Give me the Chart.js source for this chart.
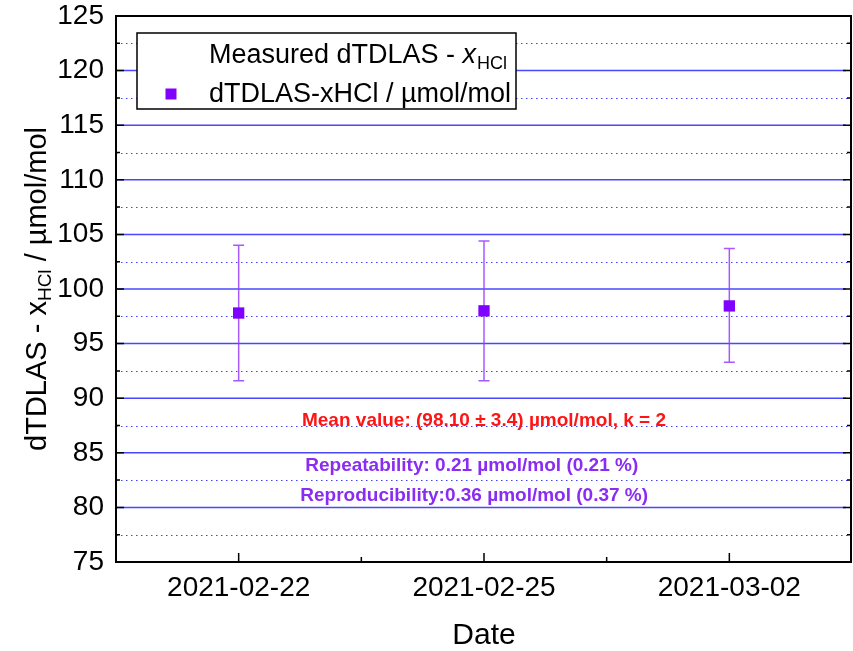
<!DOCTYPE html>
<html>
<head>
<meta charset="utf-8">
<script src="https://cdn.jsdelivr.net/npm/chart.js@4.4.0/dist/chart.umd.min.js"></script>
<style>
  html, body { margin: 0; padding: 0; background: #fff; }
  #wrap { width: 853px; height: 651px; }
</style>
</head>
<body>
<div id="wrap"><canvas id="myChart" width="853" height="651"></canvas></div>
<script>
// data
var dates = ["2021-02-22", "2021-02-25", "2021-03-02"];
var values = [97.8, 98.0, 98.45];
var errLow = [91.6, 91.6, 93.3];
var errHigh = [104.0, 104.4, 103.7];

var notes = [
  "Mean value: (98.10 \u00b1 3.4) \u00b5mol/mol, k = 2",
  "Repeatability: 0.21 \u00b5mol/mol (0.21 %)",
  "Reproducibility:0.36 \u00b5mol/mol (0.37 %)"
];
var noteX = [1.0, 0.95, 0.96];
var noteY = [87.9, 83.8, 81.1];
var noteColors = ["#ff1414", "#8a2cf2", "#8a2cf2"];

const FONT = "'Liberation Sans', Arial, sans-serif";
const purple = "#8000ff";

// grid, frame, ticks, error bars, titles, legend
const decor = {
  id: "decor",
  beforeDatasetsDraw(chart) {
    const ctx = chart.ctx;
    const a = chart.chartArea;
    const xs = chart.scales.x;
    const ys = chart.scales.y;
    ctx.save();
    // grid lines
    ys.ticks.forEach((t, i) => {
      const v = t.value;
      const py = ys.getPixelForValue(v);
      if (v > ys.min && v < ys.max) {
        ctx.beginPath();
        ctx.strokeStyle = "rgba(40,40,255,0.85)";
        ctx.lineWidth = 1.5;
        ctx.setLineDash([]);
        ctx.moveTo(a.left, py);
        ctx.lineTo(a.right - 6, py);
        ctx.stroke();
      }
      if (i < ys.ticks.length - 1) {
        const mv = (v + ys.ticks[i + 1].value) / 2;
        const my = Math.round(ys.getPixelForValue(mv)) + 0.5;
        ctx.beginPath();
        ctx.strokeStyle = "rgba(30,30,255,0.85)";
        ctx.lineWidth = 1;
        ctx.setLineDash([1.5, 3.5]);
        ctx.moveTo(a.left, my);
        ctx.lineTo(a.right - 4, my);
        ctx.stroke();
      }
    });
    ctx.setLineDash([]);

    // error bars
    ctx.strokeStyle = "rgba(150,60,255,0.85)";
    ctx.lineWidth = 1.5;
    values.forEach((v, i) => {
      const px = xs.getPixelForValue(i);
      const top = ys.getPixelForValue(errHigh[i]);
      const bot = ys.getPixelForValue(errLow[i]);
      ctx.beginPath();
      ctx.moveTo(px, top);
      ctx.lineTo(px, bot);
      ctx.moveTo(px - 5.5, top);
      ctx.lineTo(px + 5.5, top);
      ctx.moveTo(px - 5.5, bot);
      ctx.lineTo(px + 5.5, bot);
      ctx.stroke();
    });

    // annotation texts
    ctx.font = "bold 19px " + FONT;
    ctx.textAlign = "center";
    ctx.textBaseline = "middle";
    notes.forEach((n, i) => {
      ctx.fillStyle = noteColors[i];
      ctx.fillText(n, xs.getPixelForValue(noteX[i]), ys.getPixelForValue(noteY[i]));
    });
    ctx.restore();
  },
  afterDraw(chart) {
    const ctx = chart.ctx;
    const a = chart.chartArea;
    const xs = chart.scales.x;
    const ys = chart.scales.y;
    ctx.save();
    ctx.strokeStyle = "#000";
    ctx.lineWidth = 2;
    // frame
    ctx.strokeRect(a.left, a.top, a.right - a.left - 1, a.bottom - a.top);
    // y ticks left and right
    ctx.lineWidth = 1.5;
    ys.ticks.forEach((t, i) => {
      const py = ys.getPixelForValue(t.value);
      ctx.beginPath();
      ctx.moveTo(a.left, py); ctx.lineTo(a.left + 8, py);
      ctx.moveTo(a.right - 1, py); ctx.lineTo(a.right - 9, py);
      ctx.stroke();
      if (i < ys.ticks.length - 1) {
        const my = ys.getPixelForValue((t.value + ys.ticks[i + 1].value) / 2);
        ctx.beginPath();
        ctx.moveTo(a.left, my); ctx.lineTo(a.left + 4, my);
        ctx.moveTo(a.right - 1, my); ctx.lineTo(a.right - 5, my);
        ctx.stroke();
      }
    });
    // x ticks
    xs.ticks.forEach((t, i) => {
      const px = xs.getPixelForValue(t.value);
      ctx.beginPath();
      ctx.moveTo(px, a.bottom); ctx.lineTo(px, a.bottom - 9);
      ctx.stroke();
      if (i < xs.ticks.length - 1) {
        const mx = xs.getPixelForValue((t.value + xs.ticks[i + 1].value) / 2);
        ctx.beginPath();
        ctx.moveTo(mx, a.bottom); ctx.lineTo(mx, a.bottom - 5);
        ctx.stroke();
      }
    });

    // axis titles
    ctx.fillStyle = "#000";
    ctx.textBaseline = "alphabetic";
    ctx.textAlign = "center";
    ctx.font = "30px " + FONT;
    ctx.fillText("Date", (a.left + a.right) / 2, 644);

    // y title with subscript
    const p1 = "dTDLAS - x", sub = "HCl", p2 = " / \u00b5mol/mol";
    ctx.font = "29px " + FONT;
    const w1 = ctx.measureText(p1).width, w3 = ctx.measureText(p2).width;
    ctx.font = "19px " + FONT;
    const w2 = ctx.measureText(sub).width;
    const total = w1 + w2 + w3;
    ctx.translate(46, (a.top + a.bottom) / 2);
    ctx.rotate(-Math.PI / 2);
    ctx.textAlign = "left";
    let x0 = -total / 2;
    ctx.font = "29px " + FONT;
    ctx.fillText(p1, x0, 0);
    ctx.font = "19px " + FONT;
    ctx.fillText(sub, x0 + w1, 5);
    ctx.font = "29px " + FONT;
    ctx.fillText(p2, x0 + w1 + w2, 0);
    ctx.setTransform(1, 0, 0, 1, 0, 0);

    // legend
    ctx.fillStyle = "#fff";
    ctx.fillRect(137, 33, 379, 76);
    ctx.strokeStyle = "#000";
    ctx.lineWidth = 1.5;
    ctx.strokeRect(137, 33, 379, 76);
    ctx.fillStyle = "#000";
    ctx.textAlign = "left";
    ctx.font = "27px " + FONT;
    const l1 = "Measured dTDLAS - ";
    ctx.fillText(l1, 209, 63);
    let lx = 209 + ctx.measureText(l1).width;
    ctx.font = "italic 27px " + FONT;
    ctx.fillText("x", lx, 63);
    lx += ctx.measureText("x").width;
    ctx.font = "18px " + FONT;
    ctx.fillText("HCl", lx + 1, 69);
    ctx.font = "27px " + FONT;
    ctx.fillText(chart.data.datasets[0].label, 209, 102);
    ctx.fillStyle = purple;
    ctx.fillRect(165.5, 88.5, 11, 11);
    ctx.restore();
  }
};

const ctx = document.getElementById("myChart").getContext("2d");
const myChart = new Chart(ctx, {
  type: "scatter",
  data: {
    datasets: [{
      label: "dTDLAS-xHCl / \u00b5mol/mol",
      data: values.map((v, i) => ({ x: i, y: v })),
      backgroundColor: purple,
      borderColor: purple,
      borderWidth: 0,
      pointStyle: "rect",
      pointRadius: 8,
      pointHoverRadius: 8
    }]
  },
  options: {
    responsive: false,
    animation: false,
    events: [],
    layout: { autoPadding: false, padding: { top: 16, right: 1, left: 0, bottom: 0 } },
    plugins: { legend: { display: false }, tooltip: { enabled: false } },
    scales: {
      x: {
        type: "linear",
        min: -0.5,
        max: 2.5,
        afterBuildTicks: (s) => { s.ticks = dates.map((d, i) => ({ value: i })); },
        afterFit: (s) => { s.height = 89; s.paddingLeft = 0; s.paddingRight = 0; },
        grid: { display: false, drawTicks: false },
        border: { display: false },
        ticks: {
          padding: 12,
          color: "#000",
          font: { family: FONT, size: 28, lineHeight: 1 },
          maxRotation: 0,
          callback: (v) => dates[v]
        }
      },
      y: {
        min: 75,
        max: 125,
        afterFit: (s) => { s.width = 116; s.paddingTop = 0; s.paddingBottom = 0; },
        grid: { display: false, drawTicks: false },
        border: { display: false },
        ticks: {
          stepSize: 5,
          padding: 12,
          color: "#000",
          font: { family: FONT, size: 28, lineHeight: 1 }
        }
      }
    }
  },
  plugins: [decor]
});
</script>
</body>
</html>
